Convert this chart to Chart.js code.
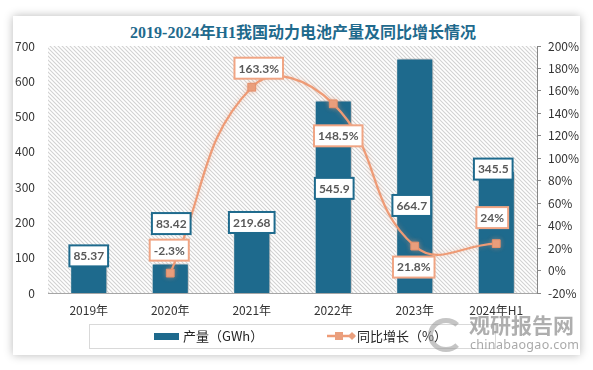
<!DOCTYPE html>
<html>
<head>
<meta charset="utf-8">
<script src="https://cdn.jsdelivr.net/npm/chart.js@4.4.0/dist/chart.umd.min.js"></script>
<style>
    html, body { margin: 0; padding: 0; background: #fff; }
    body { width: 593px; height: 370px; position: relative; overflow: hidden; font-family: "Noto Sans CJK SC", sans-serif; }
    #card { position: absolute; left: 13px; top: 16px; width: 567px; height: 339px; background: #fff; box-shadow: 0 0 9px rgba(0,0,0,0.28); }
    #chart { position: absolute; left: 0; top: 0; }
    #title { position: absolute; left: 13px; top: 22px; width: 580px; text-align: center; font: bold 16px "Liberation Serif", "Noto Sans CJK SC", serif; color: #1f6a8d; line-height: 22px; }
    #legend { position: absolute; left: 89px; top: 324px; width: 407px; height: 25px; border: 1px solid #d9d9d9; box-sizing: border-box; }
    .lg-text { position: absolute; top: 326px; font-size: 13px; line-height: 20px; color: #262626; }
    #swatch { position: absolute; left: 154px; top: 333px; width: 25px; height: 7px; background: #1e6a8d; }
    #lineKey { position: absolute; left: 327px; top: 331px; }
    #wm-logo { position: absolute; left: 428px; top: 318px; width: 26px; height: 24px; border-radius: 50%; border: 5px solid rgba(150,150,150,0.55); border-right-color: transparent; }
    #wm-cn { position: absolute; left: 469px; top: 312px; font: bold 21px "Noto Sans CJK SC", sans-serif; color: rgba(140,140,140,0.7); line-height: 24px; }
    #wm-en { position: absolute; left: 470px; top: 337px; font: 12.5px "Noto Sans", sans-serif; color: rgba(140,140,140,0.75); letter-spacing: 0.3px; line-height: 16px; }
</style>
</head>
<body>
<div id="card"></div>
<div id="title">2019-2024年H1我国动力电池产量及同比增长情况</div>
<canvas id="chart" width="593" height="370"></canvas>
<div id="legend"></div>
<div id="swatch"></div>
<div class="lg-text" style="left:183px">产量（GWh）</div>
<svg id="lineKey" width="30" height="10">
    <line x1="0" y1="5" x2="28" y2="5" stroke="#ee9b76" stroke-width="2.5"/>
    <rect x="8" y="1" width="8" height="8" fill="#ea9f7d"/>
    <polygon points="25,1 29,5 25,9 21,5" fill="#ea9f7d"/>
</svg>
<div class="lg-text" style="left:357px">同比增长（%）</div>
<div id="wm-logo"></div>
<div id="wm-cn">观研报告网</div>
<div id="wm-en">chinabaogao.com</div>

<script>
// chart data
const categories = ['2019年', '2020年', '2021年', '2022年', '2023年', '2024年H1'];
const output = [85.37, 83.42, 219.68, 545.9, 664.7, 345.5];
const growth = [null, -2.3, 163.3, 148.5, 21.8, 24];
const leftTicks = [0, 100, 200, 300, 400, 500, 600, 700];
const rightTicks = [-20, 0, 20, 40, 60, 80, 100, 120, 140, 160, 180, 200];

const BAR_COLOR = '#1e6a8d';
const LINE_COLOR = '#ee9b76';

// diagonal hatch behind the plot area
const hatchPlugin = {
    id: 'hatch',
    beforeDraw(chart) {
        const { ctx, chartArea: a } = chart;
        const tile = document.createElement('canvas');
        tile.width = 4;
        tile.height = 4;
        const t = tile.getContext('2d');
        t.fillStyle = '#fff';
        t.fillRect(0, 0, 4, 4);
        t.strokeStyle = '#d2d2d2';
        t.lineWidth = 1.1;
        t.beginPath();
        t.moveTo(-1, -1); t.lineTo(5, 5);
        t.moveTo(-1, 3); t.lineTo(1, 5);
        t.moveTo(3, -1); t.lineTo(5, 1);
        t.stroke();
        ctx.save();
        ctx.fillStyle = ctx.createPattern(tile, 'repeat');
        ctx.fillRect(a.left, a.top, a.width, a.height);
        ctx.restore();
    }
};

// shadows on bars, soft glow on the line
const shadowPlugin = {
    id: 'shadows',
    beforeDatasetDraw(chart, args) {
        const ctx = chart.ctx;
        ctx.save();
        if (args.index === 0) {
            ctx.shadowColor = 'rgba(0,0,0,0.35)';
            ctx.shadowBlur = 6;
            ctx.shadowOffsetX = 2;
        } else {
            ctx.shadowColor = 'rgba(238,155,118,0.45)';
            ctx.shadowBlur = 5;
        }
    },
    afterDatasetDraw(chart) {
        chart.ctx.restore();
    }
};

// boxed value labels
const boxLabelPlugin = {
    id: 'boxLabels',
    afterDatasetsDraw(chart, args, opts) {
        const ctx = chart.ctx;
        ctx.save();
        ctx.font = 'bold 12px Lato';
        ctx.textAlign = 'center';
        ctx.textBaseline = 'middle';
        chart.data.datasets.forEach((ds, di) => {
            const meta = chart.getDatasetMeta(di);
            const shifts = opts.shifts[di];
            meta.data.forEach((el, i) => {
                const v = ds.data[i];
                if (v === null || v === undefined) return;
                const text = di === 0 ? String(v) : v + '%';
                const w = ctx.measureText(text).width + 8;
                const h = 21;
                const cx = el.x + shifts[i][0];
                const cy = el.y + shifts[i][1];
                ctx.fillStyle = '#fff';
                ctx.fillRect(cx - w / 2, cy - h / 2, w, h);
                ctx.lineWidth = 2;
                ctx.strokeStyle = di === 0 ? BAR_COLOR : '#f0a584';
                ctx.strokeRect(cx - w / 2, cy - h / 2, w, h);
                ctx.fillStyle = '#595959';
                ctx.fillText(text, cx, cy + 0.5);
            });
        });
        ctx.restore();
    }
};

new Chart(document.getElementById('chart'), {
    data: {
        labels: categories,
        datasets: [{
            type: 'bar',
            label: '产量（GWh）',
            data: output,
            yAxisID: 'y',
            backgroundColor: BAR_COLOR,
            borderColor: '#fff',
            borderWidth: 1,
            borderSkipped: 'bottom',
            barPercentage: 0.455,
            categoryPercentage: 1,
            order: 1
        }, {
            type: 'line',
            label: '同比增长（%）',
            data: growth,
            yAxisID: 'y1',
            borderColor: LINE_COLOR,
            borderWidth: 2.25,
            tension: 0.45,
            pointStyle: 'rect',
            pointRadius: 5.5,
            pointBackgroundColor: '#ea9f7d',
            pointBorderColor: '#e5906c',
            pointBorderWidth: 1,
            order: 0
        }]
    },
    options: {
        responsive: false,
        animation: false,
        layout: { padding: { left: 0, right: 0, top: 46, bottom: 47 } },
        plugins: {
            legend: { display: false },
            tooltip: { enabled: false },
            boxLabels: {
                shifts: [
                    [[0, -7], [1, -40], [0, 7], [1, 88], [-3, 147], [-3, -2]],
                    [[0, 0], [-1, -23], [7, -19], [5, 32], [-1, 21], [-4, -26]]
                ]
            }
        },
        scales: {
            x: {
                grid: { display: false, drawTicks: false },
                border: { display: true, color: '#a6a6a6', width: 1 },
                ticks: { color: '#333', padding: 10, font: { family: 'Noto Sans CJK SC', size: 12 }, maxRotation: 0 },
                afterFit: (s) => { s.height = 30; }
            },
            y: {
                position: 'left',
                min: leftTicks[0],
                max: leftTicks[leftTicks.length - 1],
                afterBuildTicks: (s) => { s.ticks = leftTicks.map(v => ({ value: v })); },
                grid: { display: false, drawTicks: false },
                border: { display: false },
                ticks: { color: '#333', padding: 13, font: { family: 'Noto Sans CJK SC', size: 12 } },
                afterFit: (s) => { s.width = 48; }
            },
            y1: {
                position: 'right',
                min: rightTicks[0],
                max: rightTicks[rightTicks.length - 1],
                afterBuildTicks: (s) => { s.ticks = rightTicks.map(v => ({ value: v })); },
                grid: { display: true, drawOnChartArea: false, drawTicks: true, tickLength: 4, color: '#868686' },
                border: { display: true, color: '#868686', width: 1 },
                ticks: { color: '#333', padding: 7, font: { family: 'Noto Sans CJK SC', size: 12 }, callback: (v) => v + '%' },
                afterFit: (s) => { s.width = 56; }
            }
        }
    },
    plugins: [hatchPlugin, shadowPlugin, boxLabelPlugin]
});
</script>
</body>
</html>
